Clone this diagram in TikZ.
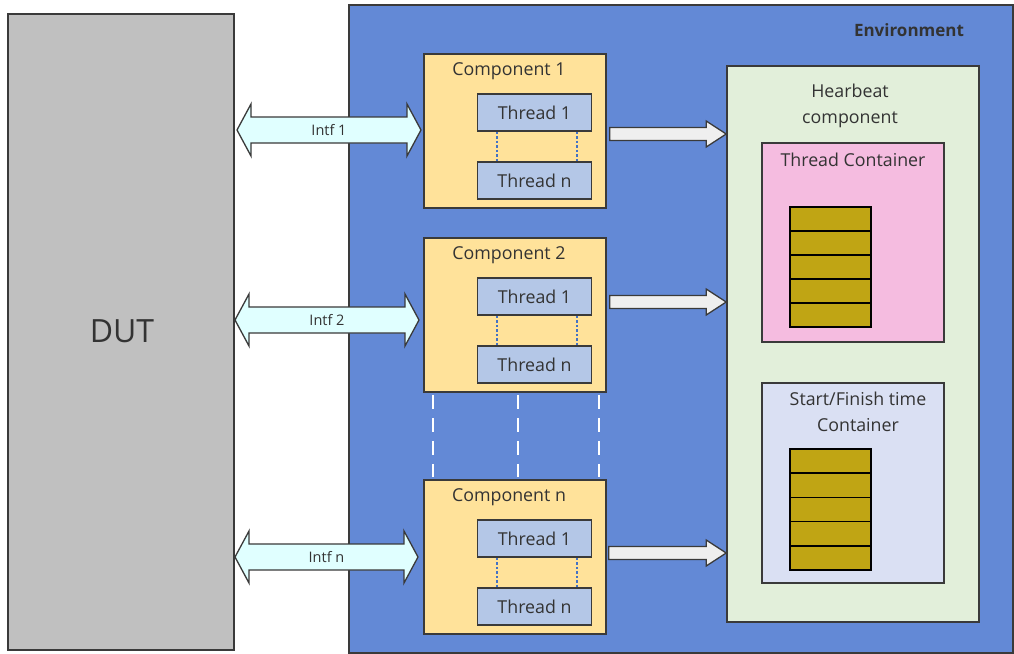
\documentclass[tikz,border=0pt]{standalone}
\usepackage{fontspec}
\setmainfont{Open Sans}
\usetikzlibrary{calc}
\definecolor{dutgray}{HTML}{C0C0C0}
\definecolor{envblue}{HTML}{6389D6}
\definecolor{compyel}{HTML}{FFE29A}
\definecolor{thrblue}{HTML}{B4C7E7}
\definecolor{hbgreen}{HTML}{E2EFDA}
\definecolor{tcpink}{HTML}{F5BCE0}
\definecolor{sflav}{HTML}{DAE0F3}
\definecolor{stackgold}{HTML}{C0A514}
\definecolor{intfcyan}{HTML}{E0FFFF}
\definecolor{arrgray}{HTML}{EFEFEF}
\definecolor{edge}{HTML}{3A3A3A}
\definecolor{txt}{HTML}{333333}
\definecolor{dotblue}{HTML}{4472C4}
\tikzset{
  box/.style={draw=edge, line width=1.6pt, inner sep=0pt, text=txt},
  dut/.style={box, fill=dutgray},
  env/.style={box, fill=envblue},
  comp/.style={box, fill=compyel, minimum width=182, minimum height=154},
  thr/.style={box, fill=thrblue, minimum width=114, minimum height=37, font=\fontsize{17.8}{20}\selectfont},
  lbl/.style={text=txt, inner sep=0pt, font=\fontsize{17.8}{20}\selectfont},
  cell/.style={draw=black, line width=1.5pt, fill=stackgold, minimum width=81, minimum height=24, inner sep=0pt},
  fat/.style={draw=edge, line width=1.3pt, line join=miter},
  dotline/.style={dotblue, line width=1.7pt, dash pattern=on 2.5pt off 2pt},
  gapline/.style={white, line width=1.6pt, dash pattern=on 14pt off 9pt}
}
\newcommand{\dblarrow}[3]{% #1 left tip, #2 right tip, #3 label
  \draw[fat, fill=intfcyan] (#1) -- ($(#1)+(14,-26)$) -- ($(#1)+(14,-13)$) -- ($(#2)+(-14,-13)$) -- ($(#2)+(-14,-26)$) -- (#2)
   -- ($(#2)+(-14,26)$) -- ($(#2)+(-14,13)$) -- ($(#1)+(14,13)$) -- ($(#1)+(14,26)$) -- cycle;
  \node[text=txt, font=\fontsize{14.5}{16}\selectfont] at ($(#1)!0.5!(#2)$) {#3};
}
\newcommand{\sglarrow}[2]{% #1 start, #2 tip
  \draw[fat, fill=arrgray] ($(#1)+(0,-6.5)$) -- ($(#2)+(-20,-6.5)$) -- ($(#2)+(-20,-13)$) -- (#2)
   -- ($(#2)+(-20,13)$) -- ($(#2)+(-20,6.5)$) -- ($(#1)+(0,6.5)$) -- cycle;
}
\begin{document}
\begin{tikzpicture}[x=1pt,y=-1pt]
\useasboundingbox (0,0) rectangle (1014,653);
\fill[white] (0,0) rectangle (1014,653);

% DUT
\node[dut, minimum width=226, minimum height=636] (dut) at (121,332) {};
\node[text=txt, font=\fontsize{32}{38}\selectfont] (dutl) at (122,331) {DUT};

% Environment
\node[env, minimum width=664, minimum height=648] (env) at (681,329) {};
\node[text=txt, font=\bfseries\fontsize{17}{20}\selectfont] (envl) at (909,30) {Environment};

% Components
\foreach \n/\t/\cy in {c1/1/131, c2/2/315, cn/n/557}{
  \node[comp] (\n) at (515,\cy) {};
  \node[lbl] (\n l) at (509,\cy-60) {Component \t};
  \node[thr] (\n t1) at (534.5,\cy-18.5) {Thread 1};
  \node[thr] (\n tn) at (534.5,\cy+49.5) {Thread n};
  \draw[dotline] ($(\n t1.south west)+(20,0)$) -- ($(\n tn.north west)+(20,0)$);
  \draw[dotline] ($(\n t1.south east)+(-15,0)$) -- ($(\n tn.north east)+(-15,0)$);
}

% dashed continuation lines
\foreach \dx in {-82,3,84}{
  \draw[gapline] ($(c2.south)+(\dx,2)$) -- ($(cn.north)+(\dx,-2)$);
}

% Heartbeat component
\node[box, fill=hbgreen, minimum width=252, minimum height=556] (hb) at (853,344) {};
\node[lbl, align=center, font=\fontsize{17.8}{26}\selectfont] (hbl) at (850,106) {Hearbeat\\component};

\node[box, fill=tcpink, minimum width=182, minimum height=199] (tc) at (853,242.5) {};
\node[lbl] (tcl) at (853,160) {Thread Container};
\foreach \i in {0,...,4}{
  \node[cell] (s1\i) at (830.5,219+24*\i) {};
}

\node[box, fill=sflav, minimum width=182, minimum height=200] (sf) at (853,483) {};
\node[lbl, align=center, font=\fontsize{17.8}{26}\selectfont] (sfl) at (858,412) {Start/Finish time\\Container};
\foreach \i in {0,...,4}{
  \node[cell, minimum height=24.2] (s2\i) at (830.5,461.1+24.2*\i) {};
}

% Interface arrows
\coordinate (i1a) at (237,130); \coordinate (i1b) at (421,130);
\coordinate (i2a) at (235,320); \coordinate (i2b) at (419,320);
\coordinate (ina) at (235,557); \coordinate (inb) at (418,557);
\dblarrow{i1a}{i1b}{Intf 1}
\dblarrow{i2a}{i2b}{Intf 2}
\dblarrow{ina}{inb}{Intf n}

% Arrows to heartbeat
\coordinate (a1a) at ($(c1.east |- 0,134)+(3,0)$); \coordinate (a1b) at (hb.west |- 0,134);
\coordinate (a2a) at ($(c2.east |- 0,302)+(3,0)$); \coordinate (a2b) at (hb.west |- 0,302);
\coordinate (ana) at ($(cn.east |- 0,553)+(2,0)$); \coordinate (anb) at (hb.west |- 0,553);
\sglarrow{a1a}{a1b}
\sglarrow{a2a}{a2b}
\sglarrow{ana}{anb}
\end{tikzpicture}
\end{document}
